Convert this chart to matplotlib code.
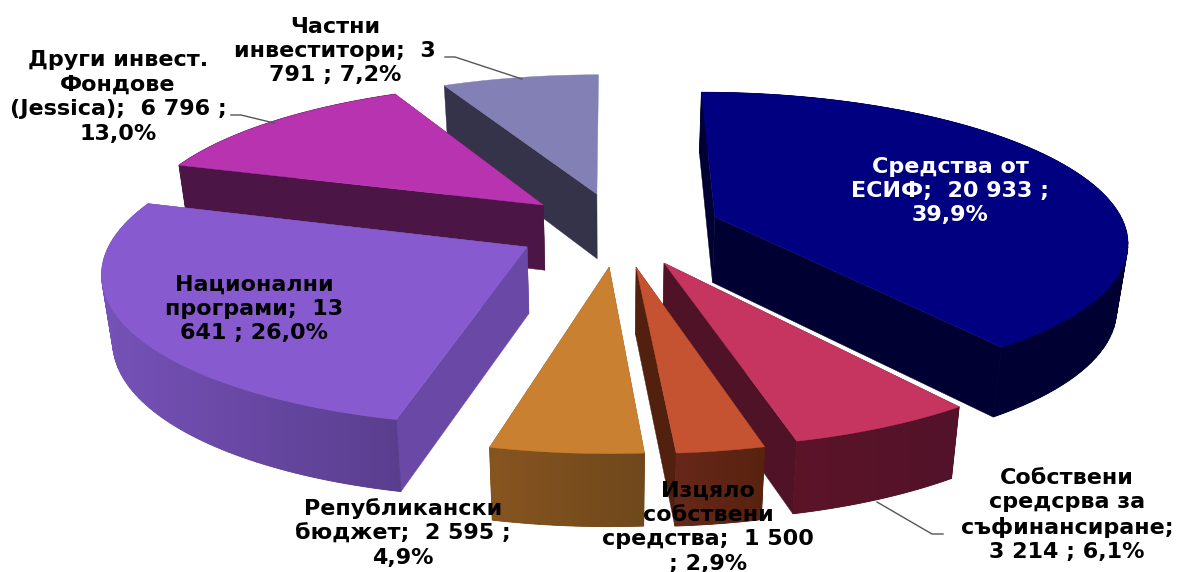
import numpy as np
import matplotlib.pyplot as plt
from matplotlib.colors import LinearSegmentedColormap, to_rgb
from matplotlib.patches import Polygon

# values in the order of the pie, clockwise from the top
names = ["Средства от ЕСИФ", "Собствени средсрва за съфинансиране", "Изцяло собствени средства",
         "Републикански бюджет", "Национални програми", "Други инвест. Фондове (Jessica)", "Частни инвеститори"]
values = [20933, 3214, 1500, 2595, 13641, 6796, 3791]
labels = ["Средства от\nЕСИФ;  20 933 ;\n39,9%",
          "Собствени\nсредсрва за\nсъфинансиране;\n3 214 ; 6,1%",
          "Изцяло\nсобствени\nсредства;  1 500\n; 2,9%",
          "Републикански\nбюджет;  2 595 ;\n4,9%",
          "Национални\nпрограми;  13\n641 ; 26,0%",
          "Други инвест.\nФондове\n(Jessica);  6 796 ;\n13,0%",
          "Частни\nинвеститори;  3\n791 ; 7,2%"]

# styles per slice
top_colors = ["#000080", "#c63560", "#c55230", "#c98030", "#875bcf", "#b733af", "#8280b4"]
wall_colors = ["#000033", "#4f1226", "#52200f", "#7a4d1e", "#6a48a6", "#4b1545", "#343349"]
arc_left = ["#000033", "#5c1428", "#66281a", "#875520", "#7652b8", "#4b1545", "#343349"]
arc_right = ["#000033", "#52122a", "#59220f", "#6f481c", "#5a3e8e", "#4b1545", "#343349"]
explode_x = [0.258, 0.127, 0.061, -0.002, -0.198, -0.166, -0.033]
explode_y = [0.097, -0.211, -0.237, -0.237, -0.107, 0.181, 0.261]
draw_order = [6, 5, 4, 0, 1, 2, 3]
back_slice = 6  # only its front radial wall can be seen
label_pos = [(950, 191), (1067, 515), (708, 527), (403, 533), (254, 309), (118, 97), (335, 51)]
label_colors = ["white", "black", "black", "black", "black", "black", "black"]
leaders = [[(877, 502), (932, 534), (943, 534)],
           [(231, 115), (241, 115), (274, 123)],
           [(445, 57), (455, 57), (522, 79)]]

# camera of the fake 3d pie, in pixels
cx, cy = 610, 231
rx, ry = 412, 147
persp = 0.148
depth = 66
shrink = 0.978


def project(x, y):
    s = 1 / (1 + persp * y)
    return cx + rx * x * s, cy - ry * y * s, s


def drop(px, py, s):
    return cx + (px - cx) * shrink, py + depth * np.sqrt(s)


fig = plt.figure(figsize=(11.78, 5.72), dpi=100)
ax = fig.add_axes([0, 0, 1, 1])

edges = np.cumsum([0] + values) / sum(values) * 2 * np.pi
z = 1

for i in draw_order:
    t = np.linspace(edges[i], edges[i + 1], 80)
    x = explode_x[i] + np.sin(t)
    y = explode_y[i] + np.cos(t)
    px, py, s = project(x, y)
    bx, by = drop(px, py, s)
    ax0, ay0, s0 = project(explode_x[i], explode_y[i])
    bx0, by0 = drop(ax0, ay0, s0)

    # radial walls first, the arc wall goes over them
    for k in ((0,) if i == back_slice else (0, -1)):
        ax.add_patch(Polygon([(ax0, ay0), (px[k], py[k]), (bx[k], by[k]), (bx0, by0)],
                             fc=wall_colors[i], ec=wall_colors[i], lw=0.3, zorder=z))
        z += 1

    if i != back_slice:
        # quads fill the silhouette where the top and bottom arcs cross
        left = np.array(to_rgb(arc_left[i]))
        right = np.array(to_rgb(arc_right[i]))
        for k in range(len(t) - 1):
            c = left + (right - left) * (px[k] - px.min()) / (px.max() - px.min())
            ax.add_patch(Polygon([(px[k], py[k]), (px[k + 1], py[k + 1]), (bx[k + 1], by[k + 1]), (bx[k], by[k])],
                                 fc=c, ec=c, lw=0.6, zorder=z))
        z += 1

        # arc wall with a left to right gradient, smooth over the quads
        wall = np.r_[np.c_[px, py], np.c_[bx, by][::-1]]
        shape = Polygon(wall, fc="none", ec="none", zorder=z)
        ax.add_patch(shape)
        cmap = LinearSegmentedColormap.from_list("wall", [arc_left[i], arc_right[i]])
        im = ax.imshow(np.linspace(0, 1, 256).reshape(1, -1), cmap=cmap, aspect="auto", zorder=z,
                       extent=[wall[:, 0].min(), wall[:, 0].max(), wall[:, 1].max(), wall[:, 1].min()])
        im.set_clip_path(shape)
        z += 1

    ax.add_patch(Polygon(np.r_[[[ax0, ay0]], np.c_[px, py]], fc=top_colors[i], ec=top_colors[i], lw=0.3, zorder=z))
    z += 1

for line in leaders:
    ax.plot([p[0] for p in line], [p[1] for p in line], color="#555555", lw=1, zorder=z)

for i in range(len(labels)):
    ax.text(label_pos[i][0], label_pos[i][1], labels[i], color=label_colors[i], ha="center", va="center",
            fontsize=16, fontweight="bold", family="DejaVu Sans", linespacing=1.28, zorder=z + 1)

ax.set_xlim(0, 1178)
ax.set_ylim(572, 0)
ax.axis("off")

plt.savefig("out.png", dpi=100)
